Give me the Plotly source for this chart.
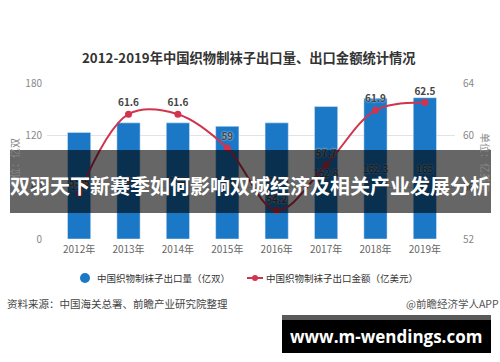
import plotly.graph_objects as go

# ---- data ----
years = ["2012年", "2013年", "2014年", "2015年", "2016年", "2017年", "2018年", "2019年"]
export_qty = [123, 134, 134, 130, 134, 152.8, 162.3, 163]          # 亿双
export_value = [55.5, 61.6, 61.6, 59, 54.2, 57.7, 61.9, 62.5]      # 亿美元
left_ticks = [0, 60, 120, 180]
right_ticks = [52, 56, 60, 64]

title_text = "2012-2019年中国织物制袜子出口量、出口金额统计情况"
qty_name = "中国织物制袜子出口量（亿双）"
val_name = "中国织物制袜子出口金额（亿美元）"
source_text = "资料来源：中国海关总署、前瞻产业研究院整理"
brand_text = "@前瞻经济学人APP"
banner_text = "双羽天下新赛季如何影响双城经济及相关产业发展分析"
url_text = "www.m-wendings.com"

# ---- layout geometry ----
W, H = 500, 362
L, R, T, B = 47, 455, 83, 239
CJK = "Noto Sans CJK SC"
BLUE = "#1a78c6"
RED = "#d2344f"


def px_x(p):
    return (p - L) / (R - L)


def px_y(p):
    return (B - p) / (B - T)


fig = go.Figure()

fig.add_trace(go.Bar(
    x=years, y=export_qty, name=qty_name, marker_color=BLUE, width=0.47,
    text=[f"{v:g}" for v in export_qty], textposition="inside", textangle=0,
    insidetextanchor="middle", constraintext="none",
    textfont=dict(family=CJK, size=10, color="#333333", shadow="0px 0px 2px #ffffff"),
    showlegend=False, yaxis="y",
))

fig.add_trace(go.Scatter(
    x=years, y=export_value, name=val_name, mode="lines+markers+text",
    line=dict(color=RED, width=2, shape="spline", smoothing=1),
    marker=dict(color=RED, size=7),
    text=[f"{v:g}" for v in export_value], textposition="top center",
    textfont=dict(family=CJK, size=10, color="#444444", weight="bold",
                  shadow="0px 0px 2px #ffffff"),
    yaxis="y2", cliponaxis=False, showlegend=False,
))

shapes = [
    # legend symbols
    dict(type="circle", xref="paper", yref="paper", layer="above",
         x0=px_x(80), x1=px_x(90), y0=px_y(283), y1=px_y(273),
         fillcolor=BLUE, line=dict(width=0)),
    dict(type="line", xref="paper", yref="paper", layer="above",
         x0=px_x(247), x1=px_x(263), y0=px_y(278), y1=px_y(278),
         line=dict(color=RED, width=2)),
    dict(type="circle", xref="paper", yref="paper", layer="above",
         x0=px_x(252), x1=px_x(258), y0=px_y(281), y1=px_y(275),
         fillcolor=RED, line=dict(width=0)),
    # dark banner
    dict(type="rect", xref="paper", yref="paper", layer="above",
         x0=px_x(10), x1=px_x(491), y0=px_y(213), y1=px_y(150),
         fillcolor="rgba(0,0,0,0.6)", line=dict(width=0)),
    # url box
    dict(type="rect", xref="paper", yref="paper", layer="above",
         x0=px_x(282), x1=px_x(491), y0=px_y(353), y1=px_y(320),
         fillcolor="#000000", line=dict(width=0)),
    dict(type="rect", xref="paper", yref="paper", layer="above",
         x0=px_x(282), x1=px_x(491), y0=px_y(320), y1=px_y(315),
         fillcolor="#5a5a5a", line=dict(width=0)),
]

annotations = [
    dict(text=f"<b>{title_text}</b>", x=px_x(249), y=px_y(58), xref="paper", yref="paper",
         showarrow=False, font=dict(family=CJK, size=13.3, color="#333333"),
         xanchor="center", yanchor="middle"),
    dict(text="单位：亿双", x=px_x(14), y=px_y(163), xref="paper", yref="paper",
         showarrow=False, textangle=-90, font=dict(family=CJK, size=10, color="#888888"),
         xanchor="center", yanchor="middle"),
    dict(text="单位：亿美元", x=px_x(486), y=px_y(163), xref="paper", yref="paper",
         showarrow=False, textangle=90, font=dict(family=CJK, size=10, color="#888888"),
         xanchor="center", yanchor="middle"),
    dict(text=qty_name, x=px_x(96), y=px_y(278), xref="paper", yref="paper",
         showarrow=False, font=dict(family=CJK, size=9.5, color="#333333"),
         xanchor="left", yanchor="middle", borderpad=0),
    dict(text=val_name, x=px_x(265), y=px_y(278), xref="paper", yref="paper",
         showarrow=False, font=dict(family=CJK, size=9.5, color="#333333"),
         xanchor="left", yanchor="middle", borderpad=0),
    dict(text=source_text, x=px_x(6), y=px_y(303), xref="paper", yref="paper",
         showarrow=False, font=dict(family=CJK, size=10.5, color="#444444"),
         xanchor="left", yanchor="middle", borderpad=0),
    dict(text=brand_text, x=px_x(405), y=px_y(303), xref="paper", yref="paper",
         showarrow=False, font=dict(family=CJK, size=10.5, color="#555555"),
         xanchor="left", yanchor="middle", borderpad=0),
    dict(text=f"<b>{banner_text}</b>", x=px_x(250), y=px_y(185), xref="paper", yref="paper",
         showarrow=False, font=dict(family=CJK, size=20, color="#ffffff"),
         xanchor="center", yanchor="middle"),
    dict(text=f"<b>{url_text}</b>", x=px_x(386), y=px_y(336), xref="paper", yref="paper",
         showarrow=False, font=dict(family="Open Sans", size=17, color="#ffffff"),
         xanchor="center", yanchor="middle"),
]

fig.update_layout(
    width=W, height=H, autosize=False, showlegend=False,
    margin=dict(l=L, r=W - R, t=T, b=H - B, pad=0, autoexpand=False),
    paper_bgcolor="#ffffff", plot_bgcolor="#ffffff",
    font=dict(family=CJK, size=10, color="#666666"),
    xaxis=dict(type="category", range=[-0.65, 7.61], showgrid=False, showline=False,
               ticks="", tickfont=dict(family=CJK, size=10, color="#666666"),
               automargin=False, fixedrange=True, ticklabelstandoff=3),
    yaxis=dict(range=[0, 180], tickvals=left_ticks, showgrid=True, gridcolor="#e3e3e3",
               gridwidth=1, zeroline=False, showline=False, ticks="", automargin=False,
               tickfont=dict(family=CJK, size=10, color="#888888"), ticklabelstandoff=4),
    yaxis2=dict(range=[52, 64], tickvals=right_ticks, overlaying="y", side="right",
                showgrid=False, zeroline=False, showline=False, ticks="", automargin=False,
                tickfont=dict(family=CJK, size=10, color="#888888"), ticklabelstandoff=7),
    uniformtext=dict(minsize=9, mode="show"),
    shapes=shapes,
    annotations=annotations,
    bargap=0.5,
)

fig.write_html("out.html", config={"displayModeBar": False},
               post_script="document.body.style.margin='0';")
